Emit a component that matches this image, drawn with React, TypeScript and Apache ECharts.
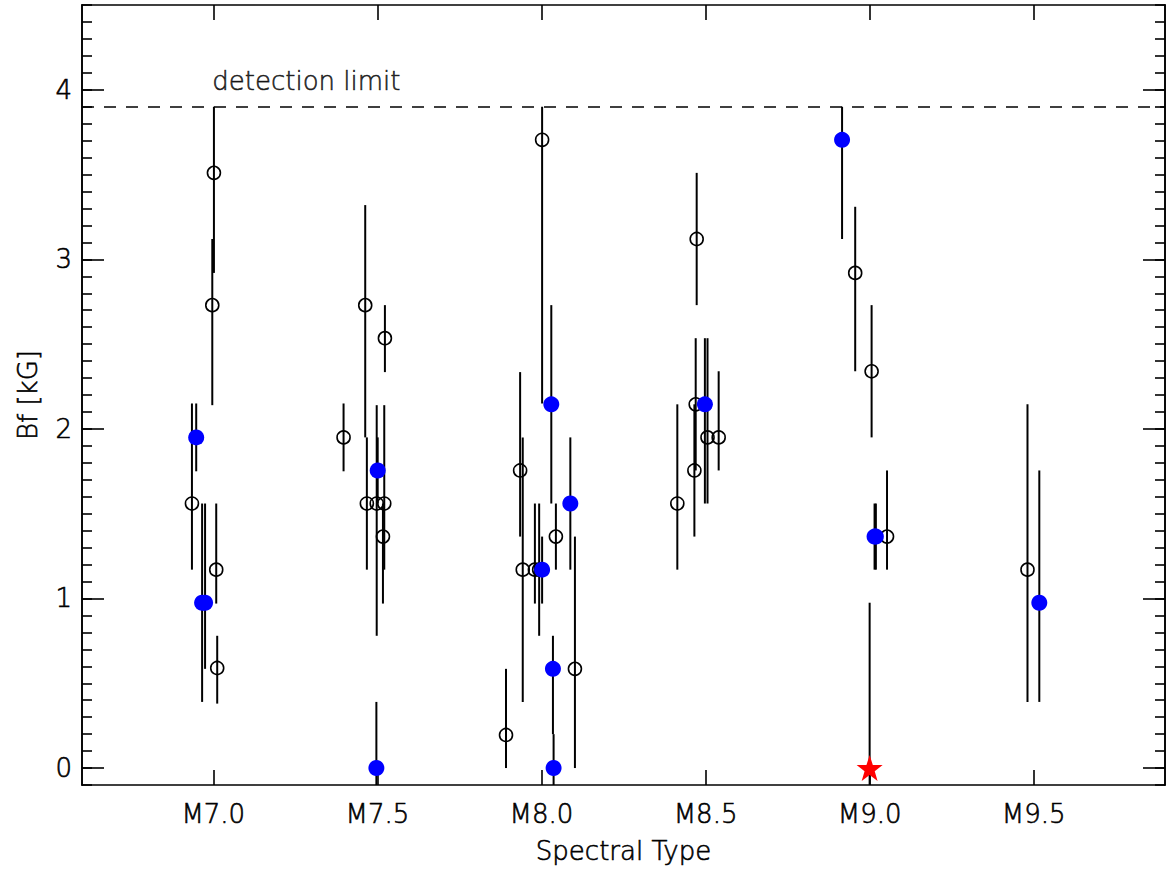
import React, { useEffect, useRef } from "react";
import * as echarts from "echarts";

// ---- data (spectral type as number: 7.0 = M7.0) ----
const openX = [6.935, 7.009, 7.012, 7.002, 6.997, 7.463, 7.523, 7.397, 7.468, 7.498, 7.521, 7.517, 8.002, 7.935, 7.943, 7.98, 7.993, 8.044, 8.102, 7.892, 8.473, 8.47, 8.466, 8.506, 8.54, 8.414, 8.956, 9.006, 9.053, 9.481];
const openY = [1.56, 1.17, 0.59, 3.51, 2.73, 2.73, 2.535, 1.95, 1.56, 1.56, 1.56, 1.365, 3.705, 1.755, 1.17, 1.17, 1.17, 1.365, 0.585, 0.195, 3.12, 2.145, 1.755, 1.95, 1.95, 1.56, 2.92, 2.34, 1.365, 1.17];
const openLow = [1.17, 0.97, 0.38, 2.92, 2.14, 1.95, 2.335, 1.75, 1.17, 0.78, 1.17, 0.97, 2.15, 1.365, 0.39, 0.97, 0.78, 1.17, 0.0, 0.0, 2.73, 1.755, 1.365, 1.56, 1.755, 1.17, 2.34, 1.95, 1.17, 0.39];
const openHigh = [2.15, 1.56, 0.78, 3.9, 3.12, 3.32, 2.73, 2.15, 1.95, 2.14, 2.14, 1.56, 3.9, 2.335, 1.95, 1.56, 1.56, 1.56, 1.365, 0.585, 3.51, 2.535, 2.145, 2.535, 2.34, 2.145, 3.31, 2.73, 1.755, 2.145];

const blueX = [6.948, 6.966, 6.975, 7.501, 7.497, 8.03, 8.088, 8.002, 8.035, 8.037, 8.498, 8.916, 9.015, 9.019, 9.517];
const blueY = [1.95, 0.975, 0.975, 1.755, 0.0, 2.145, 1.56, 1.17, 0.585, 0.0, 2.145, 3.705, 1.365, 1.365, 0.975];
const blueLow = [1.75, 0.39, 0.585, 1.56, -0.39, 1.56, 1.17, 0.97, 0.2, -0.2, 1.56, 3.12, 1.17, 1.17, 0.39];
const blueHigh = [2.15, 1.56, 1.56, 1.95, 0.39, 2.73, 1.95, 1.365, 0.78, 0.2, 2.535, 3.9, 1.56, 1.56, 1.755];

const starX = [9.0];
const starY = [0.0];
const starLow = [-0.975];
const starHigh = [0.975];

const detectionLimit = 3.9;
const detectionLabel = "detection limit";
const detectionLabelX = 7.0;

const xTickValues = [7.0, 7.5, 8.0, 8.5, 9.0, 9.5];
const yTickValues = [0, 1, 2, 3, 4];
const xMin = 6.6;
const xMax = 9.9;
const yMin = -0.1;
const yMax = 4.5;
const xTitle = "Spectral Type";
const yTitle = "Bf [kG]";

const FONT = "DejaVu Sans";
const STAR =
  "path://M50,0 L61.8,35.1 L98.1,35.1 L68.8,56.8 L79.4,91 L50,70 L20.6,91 L31.2,56.8 L1.9,35.1 L38.2,35.1 Z";

function errData(xs: number[], lo: number[], hi: number[]) {
  return xs.map((x, i) => [x, lo[i], hi[i]]);
}
function ptData(xs: number[], ys: number[]) {
  return xs.map((x, i) => [x, ys[i]]);
}

export default function App() {
  const ref = useRef<HTMLDivElement>(null);
  useEffect(() => {
    if (!ref.current) return;
    const chart = echarts.init(ref.current, undefined, { renderer: "svg" });
    const axisLine = { show: true, onZero: false, lineStyle: { color: "#000", width: 1.6 } };
    const labelStyle = {
      color: "#000",
      fontFamily: FONT,
      fontSize: 26,
      fontWeight: 200 as any,
      textBorderColor: "#000",
      textBorderWidth: 0.6,
    };
    const errRender = (params: any, api: any) => {
      const x = api.value(0);
      const lo = Math.max(api.value(1), yMin);
      const hi = Math.min(api.value(2), yMax);
      const p1 = api.coord([x, lo]);
      const p2 = api.coord([x, hi]);
      return {
        type: "line",
        shape: { x1: p1[0], y1: p1[1], x2: p2[0], y2: p2[1] },
        style: { stroke: "#000", lineWidth: 2 },
      };
    };
    const tickStyle = { color: "#000", width: 1.6 };
    const option: any = {
      animation: false,
      backgroundColor: "#fff",
      grid: { left: 82, right: 4, top: 5, bottom: 89, containLabel: false },
      xAxis: [
        {
          type: "value",
          min: xMin,
          max: xMax,
          position: "bottom",
          axisLine,
          splitLine: { show: false },
          axisTick: { show: true, inside: true, length: 15, customValues: xTickValues, lineStyle: tickStyle },
          axisLabel: {
            show: true,
            customValues: xTickValues,
            margin: 16,
            formatter: (v: number) => "M" + v.toFixed(1),
            ...labelStyle,
          },
        },
        {
          type: "value",
          min: xMin,
          max: xMax,
          position: "top",
          axisLine,
          splitLine: { show: false },
          axisTick: { show: true, inside: true, length: 15, customValues: xTickValues, lineStyle: tickStyle },
          axisLabel: { show: false },
        },
      ],
      yAxis: [
        {
          type: "value",
          min: yMin,
          max: yMax,
          position: "left",
          axisLine,
          splitLine: { show: false },
          axisTick: { show: true, inside: true, length: 22, customValues: yTickValues, lineStyle: tickStyle },
          axisLabel: { show: true, customValues: yTickValues, margin: 10, formatter: (v: number) => String(v), ...labelStyle },
        },
        {
          type: "value",
          min: yMin,
          max: yMax,
          interval: 0.1,
          position: "left",
          offset: 0,
          axisLine,
          splitLine: { show: false },
          axisTick: { show: true, inside: true, length: 10, lineStyle: tickStyle },
          axisLabel: { show: false },
        },
        {
          type: "value",
          min: yMin,
          max: yMax,
          position: "right",
          offset: 0,
          axisLine,
          splitLine: { show: false },
          axisTick: { show: true, inside: true, length: 22, customValues: yTickValues, lineStyle: tickStyle },
          axisLabel: { show: false },
        },
        {
          type: "value",
          min: yMin,
          max: yMax,
          interval: 0.1,
          position: "right",
          offset: 0,
          axisLine,
          splitLine: { show: false },
          axisTick: { show: true, inside: true, length: 10, lineStyle: tickStyle },
          axisLabel: { show: false },
        },
      ],
      series: [
        {
          type: "custom",
          name: "err-open",
          clip: true,
          xAxisIndex: 0,
          yAxisIndex: 0,
          renderItem: errRender,
          encode: { x: 0, y: [1, 2] },
          data: errData(openX, openLow, openHigh),
          z: 2,
        },
        {
          type: "custom",
          name: "err-blue",
          clip: true,
          xAxisIndex: 0,
          yAxisIndex: 0,
          renderItem: errRender,
          encode: { x: 0, y: [1, 2] },
          data: errData(blueX, blueLow, blueHigh),
          z: 2,
        },
        {
          type: "custom",
          name: "err-star",
          clip: true,
          xAxisIndex: 0,
          yAxisIndex: 0,
          renderItem: errRender,
          encode: { x: 0, y: [1, 2] },
          data: errData(starX, starLow, starHigh),
          z: 2,
        },
        {
          type: "scatter",
          name: "open",
          xAxisIndex: 0,
          yAxisIndex: 0,
          symbol: "circle",
          symbolSize: 13,
          itemStyle: { color: "rgba(255,255,255,0)", borderColor: "#000", borderWidth: 1.6, opacity: 1 },
          data: ptData(openX, openY),
          z: 3,
          markLine: {
            silent: true,
            symbol: ["none", "none"],
            label: { show: false },
            lineStyle: { color: "#000", width: 1.6, type: [12, 10] },
            data: [{ yAxis: detectionLimit }],
          },
        },
        {
          type: "scatter",
          name: "blue",
          xAxisIndex: 0,
          yAxisIndex: 0,
          symbol: "circle",
          symbolSize: 16,
          itemStyle: { color: "#0000ff", opacity: 1 },
          data: ptData(blueX, blueY),
          z: 4,
        },
        {
          type: "scatter",
          name: "star",
          xAxisIndex: 0,
          yAxisIndex: 0,
          symbol: STAR,
          symbolSize: 26,
          itemStyle: { color: "#ff0000", opacity: 1 },
          data: ptData(starX, starY),
          z: 5,
        },
        {
          type: "scatter",
          name: "label",
          xAxisIndex: 0,
          yAxisIndex: 0,
          symbolSize: 0,
          silent: true,
          data: [[detectionLabelX, detectionLimit]],
          label: {
            show: true,
            position: "right",
            distance: 0,
            offset: [-1, -26],
            formatter: detectionLabel,
            ...labelStyle,
          },
          z: 5,
        },
      ],
      graphic: [
        {
          type: "text",
          x: 623.5,
          y: 851,
          style: {
            text: xTitle,
            fill: "#000",
            stroke: "#000",
            lineWidth: 0.6,
            font: `200 26px "${FONT}"`,
            textAlign: "center",
            textVerticalAlign: "middle",
          },
        },
        {
          type: "text",
          x: 28,
          y: 395,
          rotation: Math.PI / 2,
          style: {
            text: yTitle,
            fill: "#000",
            stroke: "#000",
            lineWidth: 0.6,
            font: `200 26px "${FONT}"`,
            textAlign: "center",
            textVerticalAlign: "middle",
          },
        },
      ],
    };
    chart.setOption(option);
    return () => chart.dispose();
  }, []);
  return (
    <div
      ref={ref}
      style={{ position: "absolute", left: 0, top: 0, width: 1169, height: 874, background: "#fff" }}
    />
  );
}
